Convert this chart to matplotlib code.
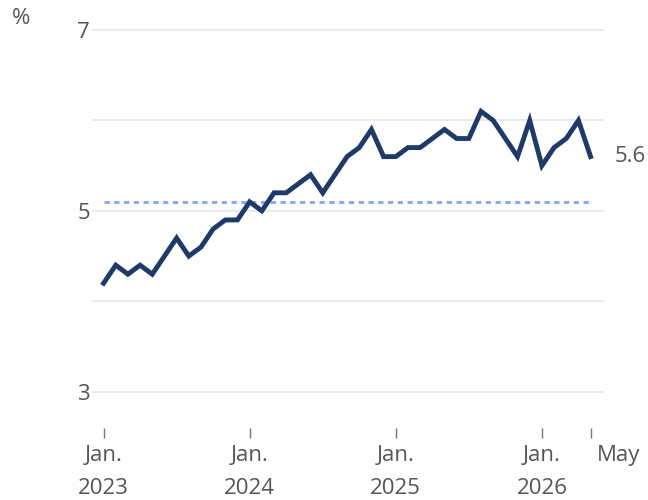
import matplotlib
matplotlib.use("Agg")
import matplotlib.pyplot as plt
import matplotlib.transforms as mtransforms

# monthly values, Jan. 2023 .. May 2026
valores = [4.2, 4.4, 4.3, 4.4, 4.3, 4.5, 4.7, 4.5, 4.6, 4.8, 4.9, 4.9,
           5.1, 5.0, 5.2, 5.2, 5.3, 5.4, 5.2, 5.4, 5.6, 5.7, 5.9, 5.6,
           5.6, 5.7, 5.7, 5.8, 5.9, 5.8, 5.8, 6.1, 6.0, 5.8, 5.6, 6.0,
           5.5, 5.7, 5.8, 6.0, 5.6]
meses = list(range(len(valores)))
referencia = 5.1

ticks_x = [0, 12, 24, 36, 40]
etiquetas_x = ["Jan.\n2023", "Jan.\n2024", "Jan.\n2025", "Jan.\n2026", "May"]
ticks_y = [3, 5, 7]
grid_y = [3, 4, 5, 6, 7]

gris = "#555555"
tam = 16
plt.rcParams["font.family"] = ["Open Sans", "DejaVu Sans"]

fig = plt.figure(figsize=(6.48, 5), dpi=100)
ax = fig.add_axes([92 / 648, 72 / 500, 512 / 648, 403 / 500])

for g in grid_y:
    ax.axhline(g, color="#e8e8e8", lw=1.3, zorder=0)

ax.plot([meses[0], meses[-1]], [referencia, referencia], color="#8cadea",
        lw=2.2, dashes=(1.7, 1.5), zorder=1)
ax.plot(meses, valores, color="#1f3a68", lw=3.5, solid_joinstyle="miter",
        zorder=2)

ax.set_xlim(-0.95, 41.1)
ax.set_ylim(2.60, 7.055)

ax.set_xticks(ticks_x)
ax.set_xticklabels(etiquetas_x, fontsize=tam, color=gris, linespacing=1.75,
                   va="top")
ax.set_yticks(ticks_y)
ax.set_yticklabels([str(t) for t in ticks_y], fontsize=tam, color=gris)
ax.tick_params(axis="x", direction="out", length=7, width=1, color="#777777",
               pad=5)
ax.tick_params(axis="y", length=0, pad=1.5)
for s in ax.spines.values():
    s.set_visible(False)

# "May" sits to the right of its tick
ultimo = ax.get_xticklabels()[-1]
ultimo.set_ha("left")
ultimo.set_transform(ultimo.get_transform() +
                     mtransforms.ScaledTranslation(6 / 100, 0, fig.dpi_scale_trans))

ax.text(meses[-1] + 2.0, valores[-1], f"{valores[-1]:.1f}", fontsize=tam,
        color=gris, va="center", ha="left", clip_on=False)
fig.text(21 / 648, 1 - 19 / 500, "%", fontsize=tam, color=gris,
         ha="center", va="center")

fig.savefig("out.png", dpi=100)
